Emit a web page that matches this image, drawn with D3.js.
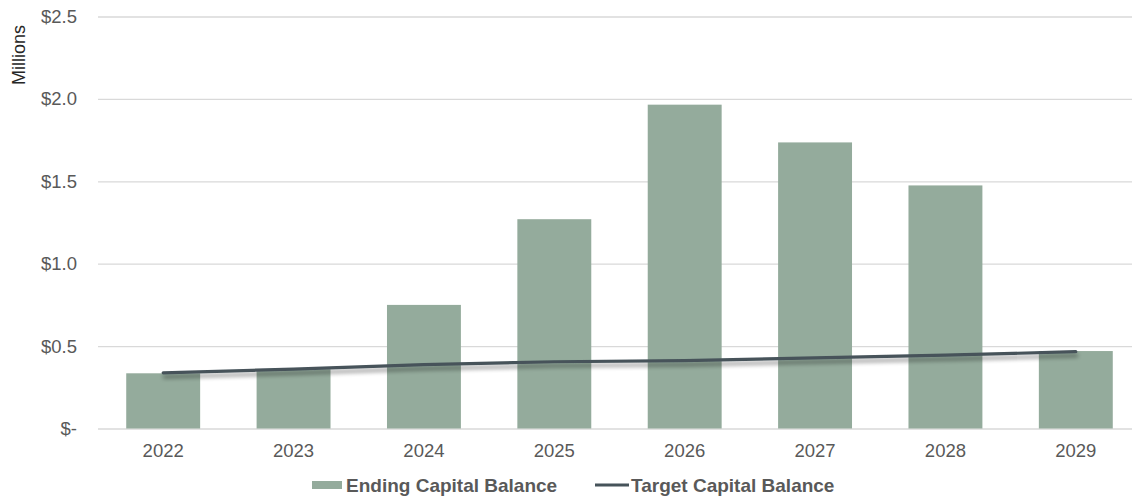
<!DOCTYPE html>
<html>
<head>
<meta charset="utf-8">
<script src="https://cdn.jsdelivr.net/npm/d3@7"></script>
<style>
  html, body { margin: 0; padding: 0; background: #fff; }
  svg { display: block; font-family: "Liberation Sans", Arial, sans-serif; }
</style>
</head>
<body>
<svg id="chart" width="1132" height="497"></svg>
<script>
// Capital balances by year, in millions of dollars
const years = ["2022", "2023", "2024", "2025", "2026", "2027", "2028", "2029"];
const endingBalance = [0.335, 0.36, 0.75, 1.27, 1.965, 1.736, 1.475, 0.47];
const targetBalance = [0.338, 0.36, 0.388, 0.405, 0.412, 0.428, 0.445, 0.466];
const yTicks = [0, 0.5, 1.0, 1.5, 2.0, 2.5];
const yTickLabels = ["$-", "$0.5", "$1.0", "$1.5", "$2.0", "$2.5"];

const svg = d3.select("#chart");
const margin = { top: 16.5, left: 98 };
const plotWidth = 1043;          // runs slightly past the right edge of the frame
const plotHeight = 412;

const x = d3.scaleBand().domain(years).range([0, plotWidth]).paddingInner(0.433).paddingOuter(0.2165);
const y = d3.scaleLinear().domain([0, 2.5]).range([plotHeight, 0]);

const defs = svg.append("defs");
const shadow = defs.append("filter").attr("id", "lineShadow")
  .attr("x", "-5%").attr("y", "-100%").attr("width", "110%").attr("height", "400%");
shadow.append("feGaussianBlur").attr("in", "SourceAlpha").attr("stdDeviation", 2).attr("result", "blur");
shadow.append("feOffset").attr("in", "blur").attr("dx", 1).attr("dy", 4).attr("result", "off");
shadow.append("feComponentTransfer").attr("in", "off").attr("result", "soft")
  .append("feFuncA").attr("type", "linear").attr("slope", 0.4);
const merge = shadow.append("feMerge");
merge.append("feMergeNode").attr("in", "soft");
merge.append("feMergeNode").attr("in", "SourceGraphic");

const g = svg.append("g").attr("transform", `translate(${margin.left},${margin.top})`);

// Horizontal gridlines with dollar labels
const yAxis = d3.axisLeft(y).tickValues(yTicks)
  .tickFormat((d, i) => yTickLabels[i])
  .tickSize(-plotWidth).tickPadding(21);
const yg = g.append("g").call(yAxis);
yg.select(".domain").remove();
yg.selectAll(".tick line").attr("stroke", "#d9d9d9").attr("stroke-width", 1.3);
yg.selectAll(".tick text").attr("fill", "#595959").style("font-size", "18.5px");

// Year labels along the bottom
const xAxis = d3.axisBottom(x).tickSize(0).tickPadding(15);
const xg = g.append("g").attr("transform", `translate(0,${plotHeight})`).call(xAxis);
xg.select(".domain").remove();
xg.selectAll(".tick text").attr("fill", "#595959").style("font-size", "18.5px");

// Ending capital balance bars
g.selectAll("rect.bar").data(endingBalance).join("rect")
  .attr("class", "bar")
  .attr("x", (d, i) => x(years[i]))
  .attr("y", d => y(d))
  .attr("width", x.bandwidth())
  .attr("height", d => plotHeight - y(d))
  .attr("fill", "#94ab9c");

// Target capital balance line
const line = d3.line()
  .x((d, i) => x(years[i]) + x.bandwidth() / 2)
  .y(d => y(d));
g.append("path").datum(targetBalance)
  .attr("d", line)
  .attr("fill", "none")
  .attr("stroke", "#46535a")
  .attr("stroke-width", 3.2)
  .attr("stroke-linecap", "round")
  .attr("filter", "url(#lineShadow)");

// Axis title
svg.append("text")
  .attr("transform", "translate(25,55) rotate(-90)")
  .attr("text-anchor", "middle")
  .attr("fill", "#262626")
  .style("font-size", "18px")
  .text("Millions");

// Legend
const legend = svg.append("g").attr("transform", "translate(0,485)");
legend.append("rect").attr("x", 312).attr("y", -4).attr("width", 30).attr("height", 8).attr("fill", "#94ab9c");
legend.append("text").attr("x", 346).attr("y", 7).attr("fill", "#595959")
  .style("font-size", "19px").style("font-weight", "bold").text("Ending Capital Balance");
legend.append("line").attr("x1", 595).attr("x2", 629).attr("y1", 0).attr("y2", 0)
  .attr("stroke", "#46535a").attr("stroke-width", 3.2);
legend.append("text").attr("x", 631).attr("y", 7).attr("fill", "#595959")
  .style("font-size", "19px").style("font-weight", "bold").text("Target Capital Balance");
</script>
</body>
</html>
